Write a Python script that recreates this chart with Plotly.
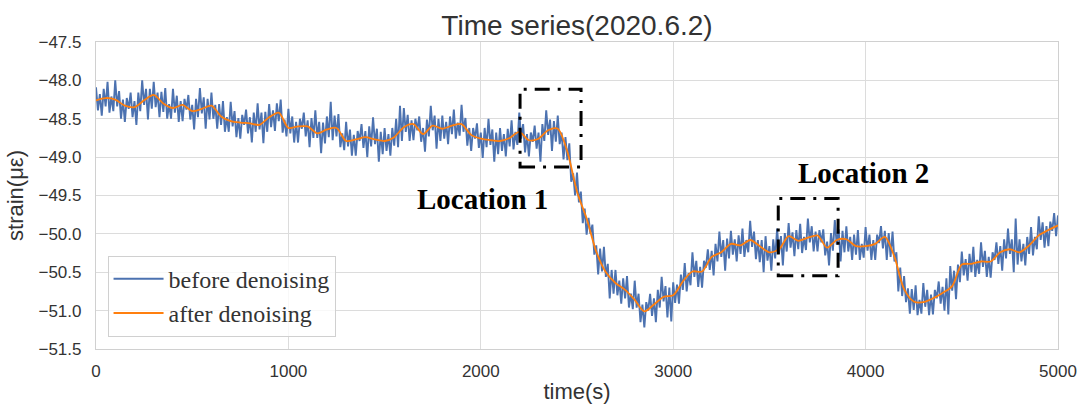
import plotly.graph_objects as go

# ---- data ----
time_after = list(range(0, 5001, 50))
strain_after = [
    -48.26, -48.23, -48.25, -48.33, -48.35, -48.26, -48.19, -48.30, -48.36, -48.32,
    -48.40, -48.37, -48.33, -48.47, -48.53, -48.55, -48.56, -48.58, -48.48, -48.42,
    -48.62, -48.60, -48.60, -48.69, -48.64, -48.62, -48.79, -48.77, -48.74, -48.77,
    -48.79, -48.74, -48.61, -48.57, -48.70, -48.59, -48.63, -48.59, -48.57, -48.71,
    -48.76, -48.78, -48.79, -48.75, -48.67, -48.78, -48.76, -48.65, -48.63, -48.93,
    -49.45, -49.80, -50.23, -50.50, -50.64, -50.73, -50.86, -51.01, -50.92, -50.82,
    -50.80, -50.62, -50.49, -50.49, -50.30, -50.24, -50.13, -50.15, -50.08, -50.16,
    -50.24, -50.20, -50.03, -50.09, -50.05, -50.02, -50.18, -50.08, -50.07, -50.16,
    -50.16, -50.13, -50.04, -50.30, -50.72, -50.88, -50.89, -50.84, -50.77, -50.68,
    -50.40, -50.39, -50.36, -50.36, -50.24, -50.20, -50.24, -50.15, -50.02, -49.95,
    -49.89,
]

time_before = list(range(0, 5001, 10))
strain_before = [
    -48.09, -48.39, -48.18, -48.46, -48.11, -48.34, -48.02, -48.42, -48.21, -48.40,
    -48.00, -48.34, -48.14, -48.50, -48.25, -48.54, -48.23, -48.37, -48.16, -48.48,
    -48.27, -48.58, -48.16, -48.40, -48.00, -48.32, -48.11, -48.51, -48.11, -48.37,
    -48.02, -48.35, -48.16, -48.48, -48.15, -48.41, -48.10, -48.50, -48.31, -48.50,
    -48.11, -48.42, -48.20, -48.54, -48.27, -48.53, -48.24, -48.38, -48.19, -48.51,
    -48.32, -48.64, -48.24, -48.48, -48.10, -48.43, -48.22, -48.63, -48.24, -48.51,
    -48.16, -48.50, -48.32, -48.63, -48.31, -48.58, -48.27, -48.67, -48.48, -48.67,
    -48.28, -48.60, -48.40, -48.74, -48.49, -48.76, -48.45, -48.58, -48.38, -48.69,
    -48.48, -48.81, -48.42, -48.67, -48.30, -48.64, -48.42, -48.82, -48.41, -48.67,
    -48.31, -48.61, -48.39, -48.66, -48.30, -48.53, -48.25, -48.68, -48.51, -48.73,
    -48.37, -48.69, -48.47, -48.81, -48.54, -48.81, -48.50, -48.63, -48.42, -48.73,
    -48.52, -48.87, -48.49, -48.75, -48.39, -48.75, -48.54, -48.95, -48.55, -48.82,
    -48.47, -48.74, -48.28, -48.78, -48.46, -48.73, -48.44, -48.87, -48.69, -48.91,
    -48.54, -48.86, -48.64, -48.98, -48.71, -48.98, -48.66, -48.79, -48.57, -48.88,
    -48.66, -49.00, -48.60, -48.86, -48.48, -48.83, -48.63, -49.06, -48.67, -48.96,
    -48.62, -48.92, -48.70, -48.98, -48.62, -48.85, -48.50, -48.87, -48.33, -48.79,
    -48.36, -48.67, -48.45, -48.79, -48.52, -48.78, -48.50, -48.65, -48.47, -48.80,
    -48.62, -48.93, -48.51, -48.73, -48.33, -48.65, -48.46, -48.89, -48.50, -48.79,
    -48.46, -48.76, -48.54, -48.83, -48.47, -48.70, -48.38, -48.76, -48.55, -48.72,
    -48.32, -48.67, -48.49, -48.85, -48.62, -48.92, -48.62, -48.76, -48.56, -48.88,
    -48.68, -49.01, -48.62, -48.87, -48.50, -48.84, -48.64, -49.06, -48.68, -48.96,
    -48.62, -48.92, -48.70, -48.99, -48.63, -48.86, -48.52, -48.90, -48.67, -48.84,
    -48.42, -48.76, -48.57, -48.94, -48.70, -48.99, -48.68, -48.80, -48.59, -48.89,
    -48.68, -49.06, -48.57, -48.79, -48.39, -48.71, -48.51, -48.92, -48.53, -48.80,
    -48.46, -48.83, -48.68, -49.03, -48.74, -49.04, -48.82, -49.32, -49.21, -49.50,
    -49.20, -49.59, -49.45, -49.86, -49.67, -50.01, -49.79, -50.00, -49.88, -50.27,
    -50.15, -50.53, -50.19, -50.49, -50.17, -50.56, -50.39, -50.84, -50.47, -50.78,
    -50.47, -50.80, -50.61, -50.91, -50.58, -50.84, -50.55, -50.96, -50.78, -50.98,
    -50.61, -50.96, -50.78, -51.15, -50.92, -51.22, -50.89, -51.00, -50.78, -51.07,
    -50.84, -51.15, -50.73, -50.96, -50.56, -50.88, -50.68, -51.09, -50.70, -51.14,
    -50.63, -50.90, -50.66, -50.91, -50.53, -50.73, -50.38, -50.75, -50.51, -50.67,
    -50.24, -50.56, -50.35, -50.69, -50.43, -50.70, -50.35, -50.44, -50.20, -50.47,
    -50.22, -50.54, -50.13, -50.36, -49.97, -50.30, -50.08, -50.48, -50.06, -50.32,
    -49.96, -50.27, -50.07, -50.36, -50.02, -50.26, -49.93, -50.30, -50.08, -50.24,
    -49.83, -50.17, -49.97, -50.33, -50.08, -50.37, -50.08, -50.50, -50.03, -50.35,
    -50.16, -50.48, -50.07, -50.32, -49.93, -50.26, -50.03, -50.41, -49.99, -50.23,
    -49.86, -50.18, -49.98, -50.29, -49.95, -50.20, -49.87, -50.25, -50.04, -50.21,
    -49.80, -50.11, -49.90, -50.23, -49.97, -50.23, -49.95, -50.11, -49.94, -50.28,
    -50.10, -50.41, -49.99, -50.22, -49.82, -50.14, -49.94, -50.36, -49.96, -50.24,
    -49.90, -50.23, -50.04, -50.34, -50.01, -50.27, -49.95, -50.34, -50.13, -50.31,
    -49.91, -50.22, -50.01, -50.34, -50.08, -50.34, -50.01, -50.12, -49.90, -50.19,
    -49.96, -50.34, -49.99, -50.30, -49.97, -50.36, -50.24, -50.75, -50.44, -50.81,
    -50.55, -50.89, -50.71, -51.04, -50.72, -50.99, -50.67, -51.06, -50.86, -51.04,
    -50.64, -50.95, -50.73, -51.06, -50.79, -51.05, -50.73, -50.84, -50.62, -50.91,
    -50.69, -51.00, -50.58, -51.05, -50.42, -50.74, -50.48, -50.85, -50.40, -50.63,
    -50.23, -50.54, -50.33, -50.61, -50.26, -50.50, -50.17, -50.56, -50.34, -50.52,
    -50.11, -50.43, -50.22, -50.56, -50.30, -50.57, -50.24, -50.34, -50.11, -50.39,
    -50.16, -50.48, -50.07, -50.32, -49.93, -50.26, -50.07, -50.50, -49.80, -50.40,
    -50.07, -50.36, -50.13, -50.41, -50.04, -50.26, -49.91, -50.28, -50.04, -50.20,
    -49.77, -50.08, -49.85, -50.18, -49.90, -50.16, -49.84, -49.96, -49.73, -50.03,
    -49.76,
]

x_ticks = [0, 1000, 2000, 3000, 4000, 5000]
y_ticks = [-51.5, -51.0, -50.5, -50.0, -49.5, -49.0, -48.5, -48.0, -47.5]

# annotation boxes: [x0, x1, y0, y1]
loc1_box = [2204, 2521, -49.128, -48.116]
loc2_box = [3546, 3857, -50.547, -49.539]
loc_labels = ["Location 1", "Location 2"]
loc_label_pos = [(2007, -49.55), (3991, -49.21)]

fig = go.Figure()
fig.add_trace(go.Scatter(
    x=time_before, y=strain_before, mode="lines", name="before denoising",
    line=dict(color="#4c72b0", width=1.9),
))
fig.add_trace(go.Scatter(
    x=time_after, y=strain_after, mode="lines", name="after denoising",
    line=dict(color="#ff7f0e", width=1.8, shape="spline", smoothing=0.8),
))

for box in (loc1_box, loc2_box):
    fig.add_shape(type="rect", xref="x", yref="y",
                  x0=box[0], x1=box[1], y0=box[2], y1=box[3],
                  line=dict(color="black", width=3, dash="15px,8px,3px,8px"))

for txt, (px, py) in zip(loc_labels, loc_label_pos):
    fig.add_annotation(x=px, y=py, xref="x", yref="y", text="<b>" + txt + "</b>",
                       showarrow=False,
                       font=dict(family="Liberation Serif, Times New Roman, serif",
                                 size=29, color="black"))

sans = "Liberation Sans, Arial, sans-serif"
axis_common = dict(
    showgrid=True, gridcolor="#dcdcdc", gridwidth=1.2,
    showline=True, linecolor="#d0d0d0", linewidth=1.2, mirror=True,
    zeroline=False, ticks="", automargin=False,
)

fig.update_xaxes(range=[0, 5000], tickvals=x_ticks, **axis_common,
                 tickfont=dict(family=sans, size=17, color="#333333"),
                 ticklabelstandoff=6,
                 title=dict(text="time(s)", standoff=4,
                            font=dict(family=sans, size=22, color="#333333")))
fig.update_yaxes(range=[-51.5, -47.5], tickvals=y_ticks, tickformat=".1f", **axis_common,
                 tickfont=dict(family=sans, size=17, color="#333333"),
                 ticklabelstandoff=10,
                 title=dict(text="strain(με)", standoff=8,
                            font=dict(family=sans, size=22, color="#333333")))

fig.update_layout(
    width=1083, height=405,
    margin=dict(l=96, r=25, t=42, b=56),
    paper_bgcolor="white", plot_bgcolor="white",
    title=dict(text="Time series(2020.6.2)", x=0.5, xref="paper", xanchor="center",
               y=0.938, yanchor="middle", yref="container",
               font=dict(family=sans, size=28, color="#333333")),
    legend=dict(x=0.012, y=0.04, xanchor="left", yanchor="bottom",
                bgcolor="rgba(255,255,255,0.8)", bordercolor="#d0d0d0", borderwidth=1,
                font=dict(family="Liberation Serif, Times New Roman, serif", size=24, color="#333333"),
                itemwidth=50, tracegroupgap=0),
    showlegend=True,
)

fig.write_html(
    "out.html",
    config={"displayModeBar": False},
    post_script="document.body.style.margin='0px';document.body.style.overflow='hidden';",
)
